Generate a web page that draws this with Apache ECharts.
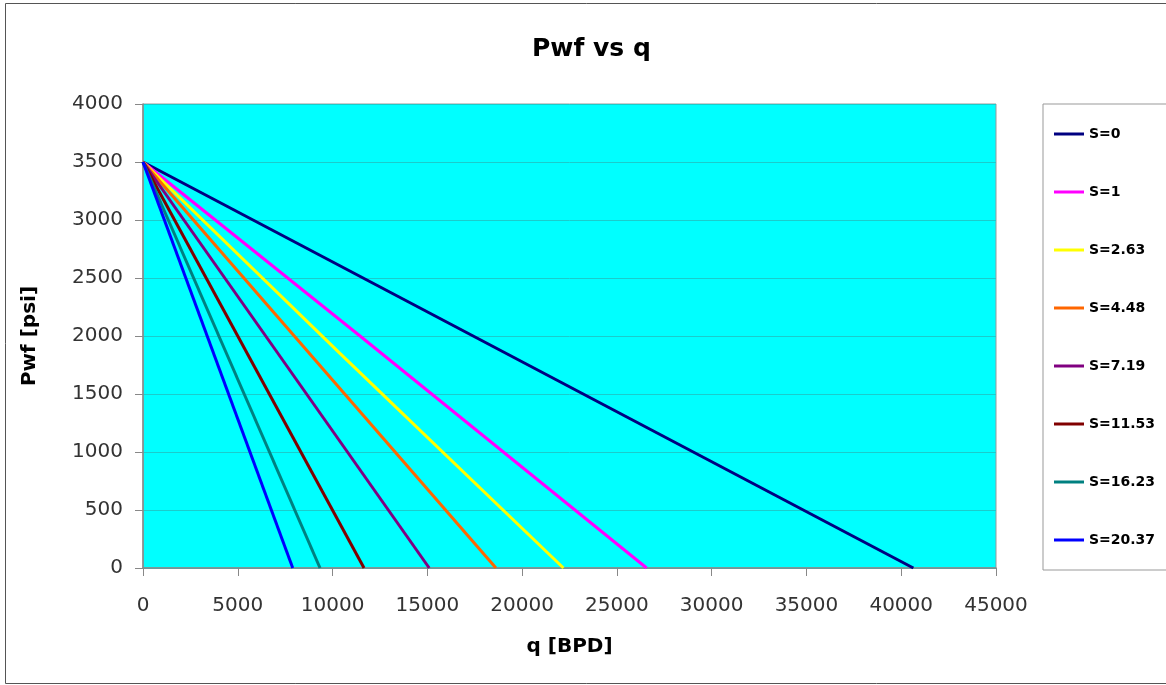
<!DOCTYPE html>
<html>
<head>
<meta charset="utf-8">
<script src="https://cdn.jsdelivr.net/npm/echarts@6/dist/echarts.min.js"></script>
<style>html,body{margin:0;padding:0;background:#fff}#c{width:1166px;height:685px}</style>
</head>
<body>
<div id="c"></div>
<script>
const seriesNames = ['S=0','S=1','S=2.63','S=4.48','S=7.19','S=11.53','S=16.23','S=20.37'];
const seriesColors = ['#000080','#FF00FF','#FFFF00','#FF6600','#800080','#800000','#008080','#0000FF'];
const s0 = [[0,3500],[40640,0]];
const s1 = [[0,3500],[11450,2000],[26570,0]];
const s263 = [[0,3500],[10390,1850],[22180,0]];
const s448 = [[0,3500],[18620,0]];
const s719 = [[0,3500],[15100,0]];
const s1153 = [[0,3500],[11660,0]];
const s1623 = [[0,3500],[9340,0]];
const s2037 = [[0,3500],[7900,0]];
const seriesData = [s0,s1,s263,s448,s719,s1153,s1623,s2037];
const xTicks = {min:0,max:45000,interval:5000};
const yTicks = {min:0,max:4000,interval:500};

const FONT = 'DejaVu Sans';
const chart = echarts.init(document.getElementById('c'));
chart.setOption({
  animation:false,
  backgroundColor:'#fff',
  graphic:[{type:'rect',shape:{x:5.5,y:3.5,width:1200,height:680},style:{fill:'none',stroke:'#555',lineWidth:1},silent:true}],
  title:{text:'Pwf vs q',left:527,top:32,textStyle:{fontFamily:FONT,fontWeight:'bold',fontSize:25,color:'#000'}},
  grid:{left:143,right:170,top:104,bottom:117,show:true,backgroundColor:'#00FFFF',borderColor:'#999',borderWidth:1},
  legend:{orient:'vertical',left:1043,top:104,itemWidth:30,itemHeight:3,itemGap:44,icon:'rect',
    padding:[23,20,23,11],borderColor:'#999',borderWidth:1,
    textStyle:{fontFamily:FONT,fontWeight:'bold',fontSize:14,color:'#000'},
    data:seriesNames},
  xAxis:{type:'value',min:xTicks.min,max:xTicks.max,interval:xTicks.interval,
    name:'q [BPD]',nameLocation:'middle',nameGap:69,
    nameTextStyle:{fontFamily:FONT,fontWeight:'bold',fontSize:20,color:'#000'},
    axisLine:{show:true,lineStyle:{color:'#888',width:1.5}},
    axisTick:{show:true,length:8,lineStyle:{color:'#888'}},
    axisLabel:{margin:28,fontFamily:FONT,fontSize:20,color:'#333',formatter:v=>String(v)},
    splitLine:{show:false}},
  yAxis:{type:'value',min:yTicks.min,max:yTicks.max,interval:yTicks.interval,
    name:'Pwf [psi]',nameLocation:'middle',nameGap:103,
    nameTextStyle:{fontFamily:FONT,fontWeight:'bold',fontSize:20,color:'#000'},
    axisLine:{show:true,lineStyle:{color:'#888',width:1.5}},
    axisTick:{show:true,length:8,lineStyle:{color:'#888'}},
    axisLabel:{margin:20,fontFamily:FONT,fontSize:20,color:'#333',formatter:v=>String(v)},
    splitLine:{show:true,lineStyle:{color:'#1ACCCC',width:1}}},
  series:seriesNames.map((n,i)=>({name:n,type:'line',data:seriesData[i],symbol:'none',
    color:seriesColors[i],lineStyle:{width:3,color:seriesColors[i]}}))
});
</script>
</body>
</html>
